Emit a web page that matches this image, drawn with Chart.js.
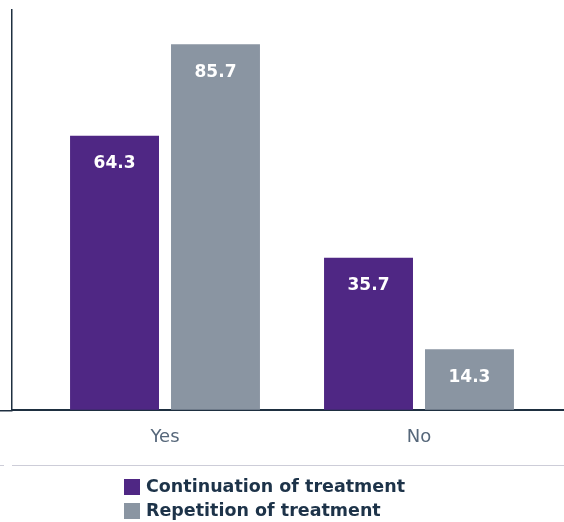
<!DOCTYPE html>
<html>
<head>
<meta charset="utf-8">
<script src="https://cdn.jsdelivr.net/npm/chart.js@4"></script>
<style>
  html, body { margin: 0; padding: 0; background: #ffffff; }
  #wrap { position: relative; width: 564px; height: 522px; overflow: hidden; }
  #c { position: absolute; left: 0; top: 0; }
  .sep { position: absolute; top: 465px; height: 0; border-top: 1px solid #cdcdd8; }
  #legend { position: absolute; left: 124px; top: 479px; font-family: "DejaVu Sans", sans-serif; font-weight: bold; font-size: 17.5px; color: #1d3349; }
  .row { display: flex; align-items: center; height: 16px; margin-bottom: 8px; white-space: nowrap; }
  .box { width: 16px; height: 16px; margin-right: 6px; flex: none; }
  .lbl { line-height: 16px; position: relative; top: -1px; }
</style>
</head>
<body>
<div id="wrap">
  <canvas id="c" width="564" height="522"></canvas>
  <div class="sep" style="left:0;width:4px"></div>
  <div class="sep" style="left:12px;width:552px"></div>
  <div id="legend"></div>
</div>
<script>
const categories = ['Yes', 'No'];
const seriesNames = ['Continuation of treatment', 'Repetition of treatment'];
const continuationValues = [64.3, 35.7];
const repetitionValues = [85.7, 14.3];
const seriesColors = ['#4f2784', '#8a95a2'];

function toPoints(values) {
  return values.map((v, i) => ({ x: i, y: v }));
}

const valueLabels = {
  id: 'valueLabels',
  afterDatasetsDraw(chart) {
    const ctx = chart.ctx;
    ctx.save();
    ctx.fillStyle = '#ffffff';
    ctx.font = 'bold 17px "DejaVu Sans", sans-serif';
    ctx.textAlign = 'center';
    ctx.textBaseline = 'middle';
    chart.data.datasets.forEach((ds, di) => {
      const meta = chart.getDatasetMeta(di);
      meta.data.forEach((bar, i) => {
        ctx.fillText(ds.data[i].y.toFixed(1), bar.x, bar.y + 28);
      });
    });
    ctx.restore();
  }
};

const chart = new Chart(document.getElementById('c'), {
  type: 'bar',
  data: {
    datasets: [
      { label: seriesNames[0], data: toPoints(continuationValues), backgroundColor: seriesColors[0] },
      { label: seriesNames[1], data: toPoints(repetitionValues), backgroundColor: seriesColors[1] }
    ]
  },
  options: {
    responsive: false,
    animation: false,
    devicePixelRatio: 1,
    categoryPercentage: 0.795,
    barPercentage: 0.881,
    layout: { padding: { top: 10, left: 0, right: 0, bottom: 66 } },
    plugins: { legend: { display: false }, tooltip: { enabled: false } },
    scales: {
      x: {
        type: 'linear',
        min: -0.6024,
        max: 1.5709,
        offset: false,
        afterBuildTicks: (axis) => { axis.ticks = categories.map((c, i) => ({ value: i })); },
        ticks: {
          callback: (v) => categories[v],
          color: '#56677a',
          font: { family: '"DejaVu Sans", sans-serif', size: 18 },
          padding: 8,
          maxRotation: 0,
          autoSkip: false
        },
        grid: { display: false },
        border: { display: true, color: '#1e2f40', width: 2 }
      },
      y: {
        min: 0,
        max: 93.7,
        afterBuildTicks: (axis) => { axis.ticks = [{ value: 0 }]; },
        ticks: { display: false },
        grid: { drawOnChartArea: false, drawTicks: true, tickLength: 12, color: '#1e2f40', lineWidth: 1.5 },
        border: { display: true, color: '#1e2f40', width: 1.5 }
      }
    }
  },
  plugins: [valueLabels]
});

const legendEl = document.getElementById('legend');
chart.data.datasets.forEach((ds) => {
  const row = document.createElement('div');
  row.className = 'row';
  const box = document.createElement('span');
  box.className = 'box';
  box.style.background = ds.backgroundColor;
  const lbl = document.createElement('span');
  lbl.className = 'lbl';
  lbl.textContent = ds.label;
  row.appendChild(box);
  row.appendChild(lbl);
  legendEl.appendChild(row);
});
</script>
</body>
</html>
